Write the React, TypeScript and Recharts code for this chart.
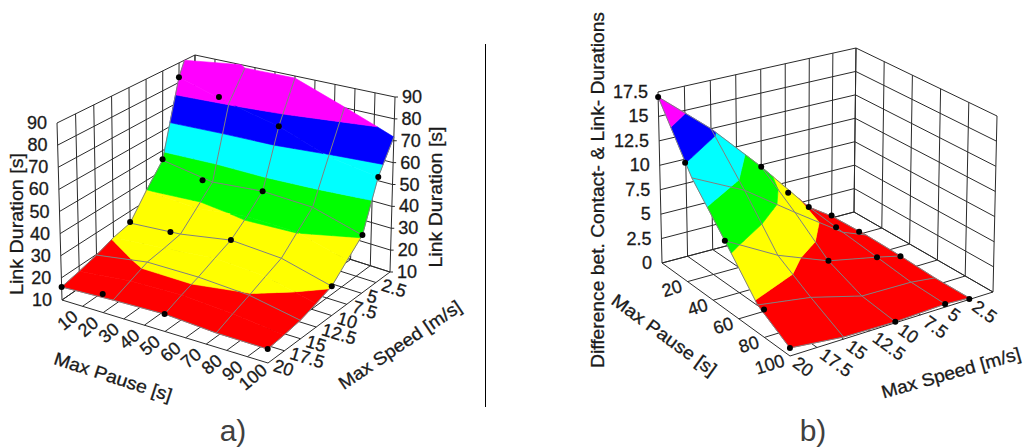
import { ScatterChart, Scatter, XAxis, YAxis } from 'recharts';

const WIDTH = 1025;
const HEIGHT = 447;

// values
const pauses = [0, 25, 50, 75, 100];
const bandColors = ['#ff0000', '#ffff00', '#00ff00', '#00ffff', '#0000ff', '#ff00ff'];

const speedsA = [20, 17.5, 15, 12.5, 10, 7.5, 5, 2.5, 0];
const meshSpeedsA = [20, 15, 10, 5];
const durationA = [
  [15.9, 16.9, 17.5, 16, 15.7],
  [17.6, 20.1, 20.6, 19.1, 16.6],
  [19.7, 23.4, 23.4, 22, 17.8],
  [22.6, 24.6, 26.8, 25.3, 20.1],
  [24.3, 26.1, 30.1, 28.5, 22.7],
  [35.1, 33.4, 36.1, 35.4, 29.3],
  [45.2, 41.1, 43.3, 42.2, 35.9],
  [82.6, 75.3, 69.8, 61.1, 57.6],
  [105, 88.7, 89, 80.3, 71.7],
];
const levelsA = [22.3, 35.2, 48.8, 62, 74.6];
const dotsA = [
  [0, 20, 15.9], [20, 20, 18.2], [50, 20, 17.5], [100, 20, 15.7],
  [0, 10, 24.8], [20, 10, 25.7], [50, 10, 30.1], [100, 10, 22.7],
  [0, 5, 45.7], [20, 5, 40.7], [50, 5, 43.3], [100, 5, 35.9],
  [0, 2.5, 82.6], [20, 2.5, 77.2], [50, 2.5, 69.8], [100, 2.5, 57.6],
];

const speedsB = [20, 15, 10, 5, 2.5];
const differenceB = [
  [17, 10.9, 6.8, 2.7, 0.77],
  [12.5, 8.3, 3.9, 1.9, 0.2],
  [7.3, 4.7, 1.9, 0.52, 0.1],
  [1.8, 1.3, 0.86, 0.42, 0.3],
  [0.2, 0.35, 0.28, 0.12, 0.15],
];
const levelsB = [3, 6, 9, 12, 14.7];
const dotsB = [
  [0, 20, 17], [20, 20, 12], [50, 20, 6.8], [80, 20, 2.7], [100, 20, 0.77],
  [0, 10, 7.3], [20, 10, 6.3], [50, 10, 1.9], [100, 10, 0.1],
  [0, 5, 1.8], [20, 5, 1.4], [50, 5, 0.86], [100, 5, 0.3],
  [0, 2.5, 0.25], [20, 2.5, 0.25], [50, 2.5, 0.25], [100, 2.5, 0.05],
];

const pauseTicksA = [10, 20, 30, 40, 50, 60, 70, 80, 90, 100];
const pauseTicksB = [20, 40, 60, 80, 100];
const speedTicks = [20, 17.5, 15, 12.5, 10, 7.5, 5, 2.5];
const zTicksA = [10, 20, 30, 40, 50, 60, 70, 80, 90];
const zTicksB = [0, 2.5, 5, 7.5, 10, 12.5, 15, 17.5];

type Pt = [number, number];
type Box = { f: Pt[]; t: Pt[]; zMin: number; zMax: number; pauseStep: number; zCount: number; warp: number };

// screen corners of the two boxes, order: front-left, front-right, back-left, back-right
const boxA: Box = {
  f: [[62, 300], [268, 363], [193, 209], [390, 272]],
  t: [[57, 123], [264, 168], [195, 55], [395, 97]],
  zMin: 10, zMax: 90, pauseStep: 10, zCount: 8, warp: 0.087,
};
const boxB: Box = {
  f: [[662, 263], [790, 356], [854, 212], [993, 292]],
  t: [[658, 92], [788, 173], [856, 48], [997, 116]],
  zMin: 0, zMax: 17.5, pauseStep: 20, zCount: 7, warp: 0.075,
};

const mix = (a: number, b: number, k: number) => a + (b - a) * k;

function quad(c: Pt[], u: number, v: number): Pt {
  return [0, 1].map((i) =>
    mix(mix(c[0][i], c[1][i], u), mix(c[2][i], c[3][i], u), v),
  ) as Pt;
}

// box coordinates to chart coordinates
function project(box: Box, pause: number, speed: number, z: number): Pt {
  const u = pause / 100;
  const rawV = (20 - speed) / 20;
  const v = rawV + box.warp * rawV * (1 - rawV); // far end of the speed axis is foreshortened
  const w = (z - box.zMin) / (box.zMax - box.zMin);
  const a = quad(box.f, u, v);
  const b = quad(box.t, u, v);
  return [mix(a[0], b[0], w), mix(a[1], b[1], w)];
}

type V = [number, number, number];

function clipZ(poly: V[], limit: number, keepBelow: boolean): V[] {
  const out: V[] = [];
  const inside = (p: V) => (keepBelow ? p[2] <= limit : p[2] >= limit);
  poly.forEach((p, i) => {
    const q = poly[(i + 1) % poly.length];
    if (inside(p)) out.push(p);
    if (inside(p) !== inside(q)) {
      const k = (limit - p[2]) / (q[2] - p[2]);
      out.push([mix(p[0], q[0], k), mix(p[1], q[1], k), limit]);
    }
  });
  return out;
}

const toItem = (pts: Pt[], extra: object) => ({ x: pts[0][0], y: pts[0][1], pts, ...extra });

function surfacePolys(box: Box, speeds: number[], values: number[][], levels: number[]) {
  const polys: object[] = [];
  const limits = [box.zMin - 1, ...levels, box.zMax];
  // back rows first, so the front of the surface stays on top
  for (let r = speeds.length - 2; r >= 0; r--) {
    for (let c = 0; c < pauses.length - 1; c++) {
      const corners: V[] = [
        [pauses[c], speeds[r], values[r][c]],
        [pauses[c + 1], speeds[r], values[r][c + 1]],
        [pauses[c + 1], speeds[r + 1], values[r + 1][c + 1]],
        [pauses[c], speeds[r + 1], values[r + 1][c]],
      ];
      bandColors.forEach((fill, b) => {
        let poly = clipZ(corners, limits[b], false);
        if (poly.length) poly = clipZ(poly, limits[b + 1], true);
        if (poly.length > 2) {
          polys.push(toItem(poly.map((p) => project(box, p[0], p[1], p[2])), { fill }));
        }
      });
    }
  }
  return polys;
}

function clippedLine(box: Box, points: V[]) {
  const out: Pt[] = [];
  for (let i = 0; i < points.length; i++) {
    const p = points[i];
    if (p[2] > box.zMax) {
      const q = points[i - 1];
      const k = (box.zMax - q[2]) / (p[2] - q[2]);
      out.push(project(box, mix(q[0], p[0], k), mix(q[1], p[1], k), box.zMax));
      break;
    }
    out.push(project(box, p[0], p[1], p[2]));
  }
  return out;
}

function meshLines(box: Box, speeds: number[], values: number[][], meshSpeeds: number[]) {
  const lines: object[] = [];
  const stroke = '#808080';
  pauses.forEach((pause, c) => {
    const pts = clippedLine(box, speeds.map((s, r) => [pause, s, values[r][c]] as V));
    lines.push(toItem(pts, { stroke }));
  });
  meshSpeeds.forEach((s) => {
    const r = speeds.indexOf(s);
    const pts = clippedLine(box, pauses.map((p, c) => [p, s, values[r][c]] as V));
    lines.push(toItem(pts, { stroke }));
  });
  return lines;
}

function gridLines(box: Box) {
  const stroke = '#2a2a2a';
  const seg = (a: Pt, b: Pt) => toItem([a, b], { stroke });
  const lines: object[] = [];
  const { zMin, zMax, pauseStep, zCount } = box;
  for (let s = 0; s <= 20; s += 2.5) {
    lines.push(seg(project(box, 0, s, zMin), project(box, 0, s, zMax)));
    lines.push(seg(project(box, 0, s, zMin), project(box, 100, s, zMin)));
  }
  for (let p = 0; p <= 100; p += pauseStep) {
    lines.push(seg(project(box, p, 0, zMin), project(box, p, 0, zMax)));
    lines.push(seg(project(box, p, 20, zMin), project(box, p, 0, zMin)));
  }
  for (let i = 0; i <= zCount; i++) {
    const z = mix(zMin, zMax, i / zCount);
    lines.push(seg(project(box, 0, 20, z), project(box, 0, 0, z)));
    lines.push(seg(project(box, 0, 0, z), project(box, 100, 0, z)));
  }
  return lines;
}

const label = (x: number, y: number, text: string, angle = 0, anchor = 'middle', size = 18, length?: number) => ({
  x, y, text, angle, anchor, size, length,
});

function tickLabels(box: Box, pauseTicks: number[], zTicks: number[], isA: boolean) {
  const out: object[] = [];
  zTicks.forEach((z) => {
    const [x, y] = project(box, 0, 20, z);
    out.push(label(x - 10, y, String(z), 0, 'end'));
    if (isA) {
      const [rx, ry] = project(box, 100, 0, z);
      out.push(label(rx + 7, ry, String(z), 0, 'start'));
    }
  });
  pauseTicks.forEach((p) => {
    const [x, y] = project(box, p, 20, box.zMin);
    if (isA) out.push(label(x - 15, y + 14, String(p), -40));
    else out.push(label(x - 6, y + 4, String(p), -17.5, 'end'));
  });
  speedTicks.forEach((s) => {
    const [x, y] = project(box, 100, s, box.zMin);
    if (isA) out.push(label(x + 6, y + 2, String(s), 17, 'start'));
    else out.push(label(x + 5, y + 5, String(s), 36, 'start'));
  });
  return out;
}

const polys = [
  ...surfacePolys(boxA, speedsA, durationA, levelsA),
  ...surfacePolys(boxB, speedsB, differenceB, levelsB),
];

const stubs = zTicksA.map((z) => {
  const [x, y] = project(boxA, 100, 0, z);
  return toItem([[x, y], [x + 3, y]], { stroke: '#2a2a2a' });
});

const frameLines = [
  ...gridLines(boxA),
  ...gridLines(boxB),
  ...stubs,
  toItem([[485.5, 44], [485.5, 407]], { stroke: '#000000' }),
];

const surfaceLines = [
  ...meshLines(boxA, speedsA, durationA, meshSpeedsA),
  ...meshLines(boxB, speedsB, differenceB, speedsB),
];

const dots = [
  ...dotsA.map(([p, s, z]) => project(boxA, p, s, z)),
  ...dotsB.map(([p, s, z]) => project(boxB, p, s, z)),
].map(([x, y]) => ({ x, y }));

const texts = [
  ...tickLabels(boxA, pauseTicksA, zTicksA, true),
  ...tickLabels(boxB, pauseTicksB, zTicksB, false),
  label(17, 224, 'Link Duration [s]', -90, 'middle', 18, 142),
  label(436, 197, 'Link Duration [s]', -90, 'middle', 18, 141),
  label(113, 377, 'Max Pause [s]', 18, 'middle', 18, 123),
  label(400, 345, 'Max Speed [m/s]', -34, 'middle', 18, 144),
  label(598, 190, 'Difference bet. Contact- & Link- Durations', -90, 'middle', 18, 356),
  label(664, 335, 'Max Pause [s]', 36, 'middle', 18, 125),
  label(951, 373, 'Max Speed [m/s]', -16, 'middle', 18, 144),
];

const captions = [label(233, 430, 'a)', 0, 'middle', 30), label(813, 430, 'b)', 0, 'middle', 30)];

// the axes map one unit to one pixel, so shapes can offset their vertices from cx/cy
function PolyShape({ cx, cy, payload }: any) {
  const points = payload.pts.map((p: Pt) => `${p[0] - payload.x + cx},${p[1] - payload.y + cy}`).join(' ');
  return <polygon points={points} fill={payload.fill} stroke={payload.fill} strokeWidth={0.6} />;
}

function LineShape({ cx, cy, payload }: any) {
  const points = payload.pts.map((p: Pt) => `${p[0] - payload.x + cx},${p[1] - payload.y + cy}`).join(' ');
  return <polyline points={points} fill="none" stroke={payload.stroke} strokeWidth={1} />;
}

function DotShape({ cx, cy }: any) {
  return <circle cx={cx} cy={cy} r={3} fill="#000000" />;
}

function TextShape({ cx, cy, payload }: any) {
  return (
    <text
      x={cx}
      y={cy}
      textAnchor={payload.anchor}
      dominantBaseline="central"
      transform={`rotate(${payload.angle} ${cx} ${cy})`}
      fontFamily="'Liberation Sans', Arial, sans-serif"
      fontSize={payload.size}
      fill="#1a1a1a"
      stroke="#1a1a1a"
      strokeWidth={0.3}
      textLength={payload.length}
      lengthAdjust={payload.length ? 'spacingAndGlyphs' : undefined}
    >
      {payload.text}
    </text>
  );
}

function CaptionShape({ cx, cy, payload }: any) {
  return (
    <text x={cx} y={cy} textAnchor="middle" dominantBaseline="central" fontFamily="'Liberation Sans', Arial, sans-serif" fontSize={payload.size} fill="#404040">
      {payload.text}
    </text>
  );
}

export default function App() {
  return (
    <div style={{ position: 'absolute', left: 0, top: 0, width: WIDTH, height: HEIGHT, background: '#fff' }}>
      <ScatterChart width={WIDTH} height={HEIGHT} margin={{ top: 0, right: 0, bottom: 0, left: 0 }}>
        <XAxis type="number" dataKey="x" domain={[0, WIDTH]} hide />
        <YAxis type="number" dataKey="y" domain={[0, HEIGHT]} reversed hide />
        <Scatter data={frameLines} shape={LineShape} isAnimationActive={false} />
        <Scatter data={polys} shape={PolyShape} isAnimationActive={false} />
        <Scatter data={surfaceLines} shape={LineShape} isAnimationActive={false} />
        <Scatter data={dots} shape={DotShape} isAnimationActive={false} />
        <Scatter data={texts} shape={TextShape} isAnimationActive={false} />
        <Scatter data={captions} shape={CaptionShape} isAnimationActive={false} />
      </ScatterChart>
    </div>
  );
}
